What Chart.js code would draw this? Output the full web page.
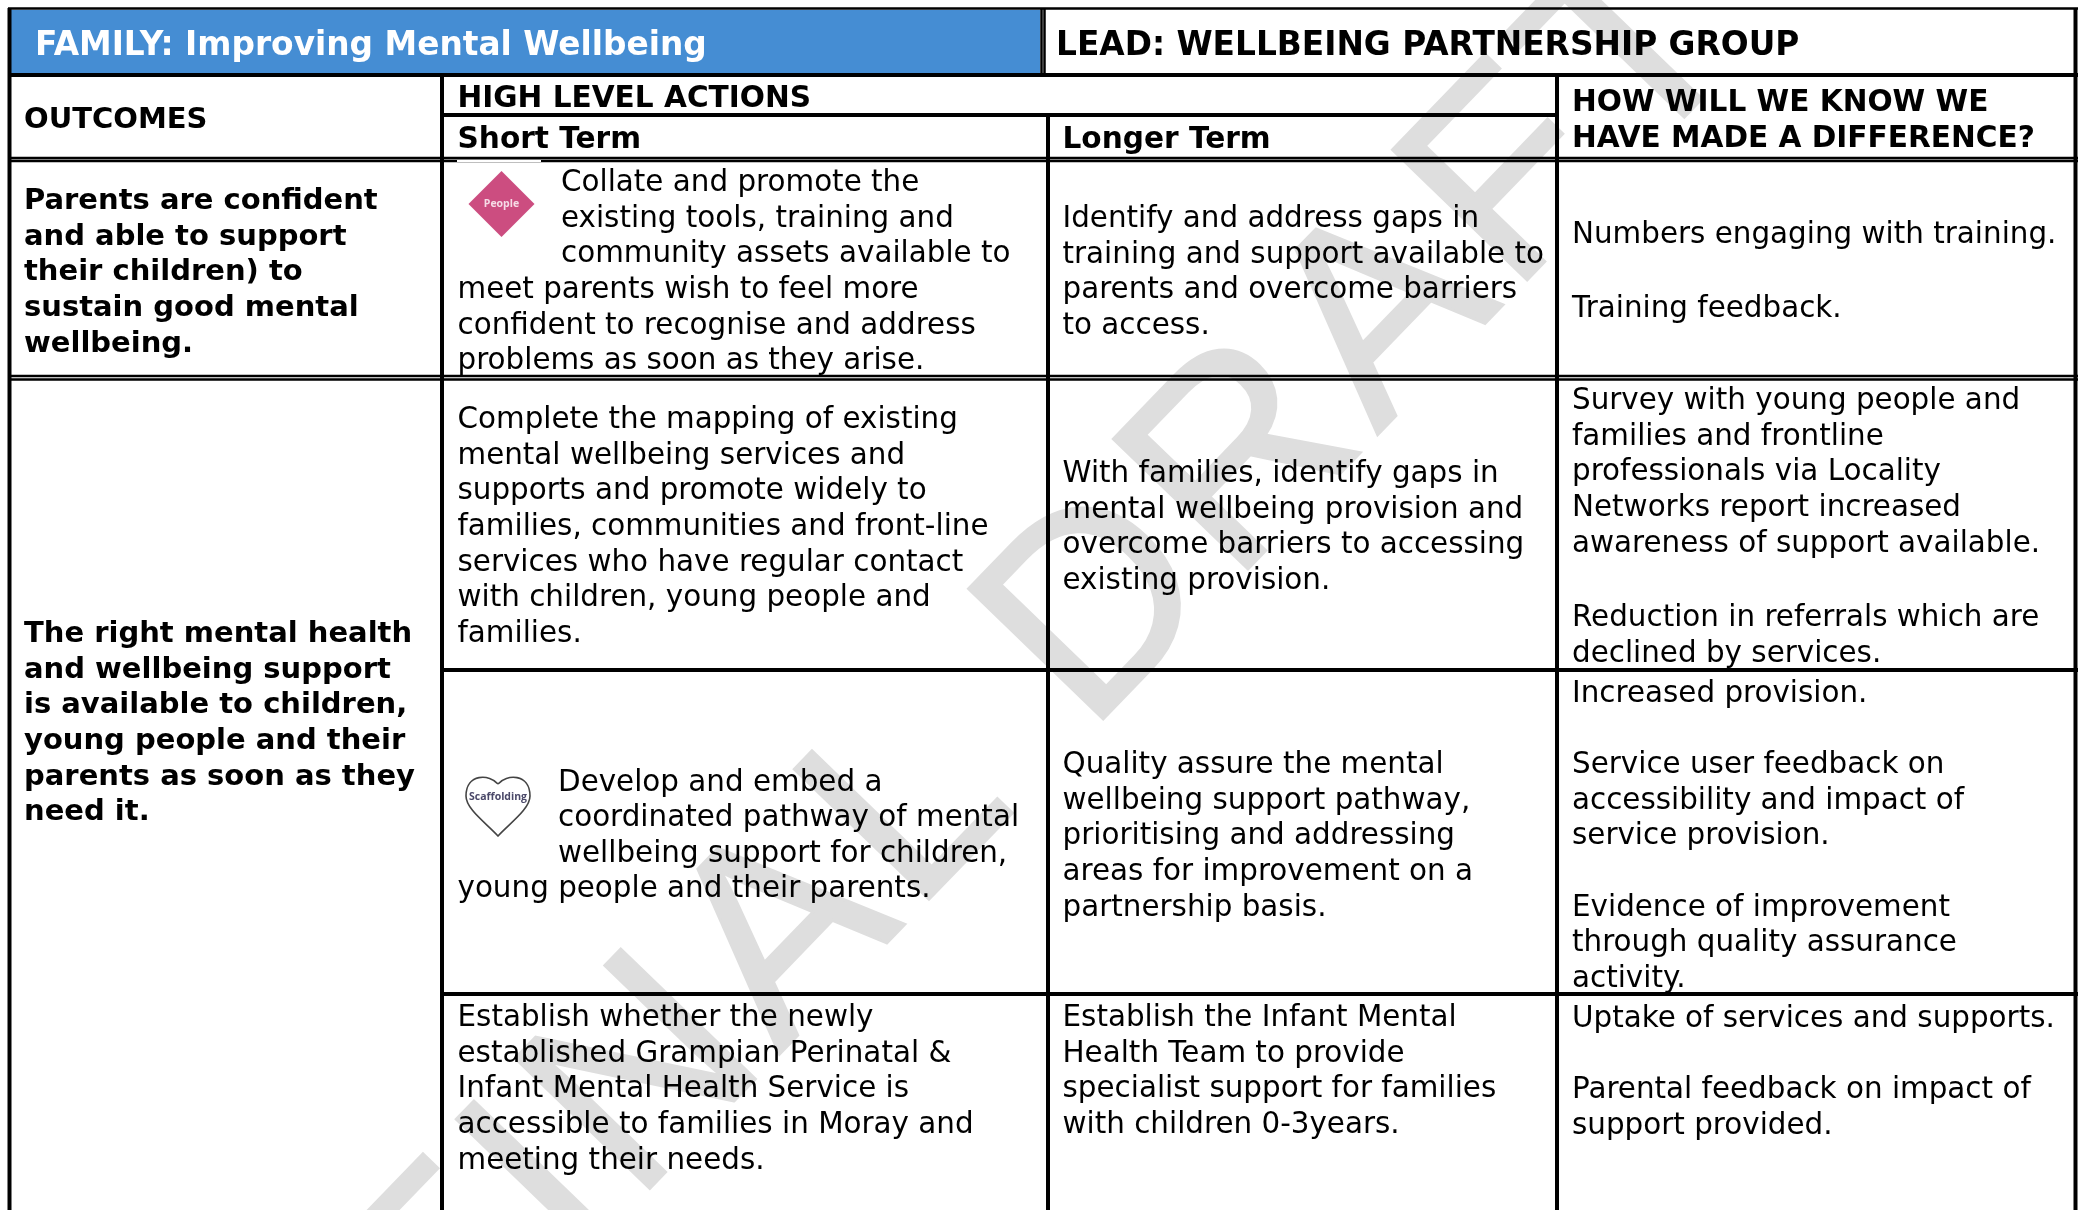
<!DOCTYPE html>
<html lang="en">
<head>
<meta charset="UTF-8" />
<title>Improving Mental Wellbeing</title>
<script src="https://cdn.jsdelivr.net/npm/chart.js@4"></script>
<style>
  html, body { margin: 0; padding: 0; background: #fff; }
  canvas { display: block; }
</style>
</head>
<body>
<canvas id="chart" width="2080" height="1210"></canvas>
<script>
// table text, one array per cell
const familyTitle = ['FAMILY: Improving Mental Wellbeing'];
const leadTitle = ['LEAD: WELLBEING PARTNERSHIP GROUP'];
const outcomesHead = ['OUTCOMES'];
const actionsHead = ['HIGH LEVEL ACTIONS'];
const shortHead = ['Short Term'];
const longerHead = ['Longer Term'];
const differenceHead = ['HOW WILL WE KNOW WE', 'HAVE MADE A DIFFERENCE?'];

const outcome1 = ['Parents are confident', 'and able to support', 'their children) to', 'sustain good mental', 'wellbeing.'];
const outcome2 = ['The right mental health', 'and wellbeing support', 'is available to children,', 'young people and their', 'parents as soon as they', 'need it.'];

const short1a = ['Collate and promote the', 'existing tools, training and', 'community assets available to'];
const short1b = ['meet parents wish to feel more', 'confident to recognise and address', 'problems as soon as they arise.'];
const longer1 = ['Identify and address gaps in', 'training and support available to', 'parents and overcome barriers', 'to access.'];
const know1a = ['Numbers engaging with training.'];
const know1b = ['Training feedback.'];

const short2 = ['Complete the mapping of existing', 'mental wellbeing services and', 'supports and promote widely to', 'families, communities and front-line', 'services who have regular contact', 'with children, young people and', 'families.'];
const longer2 = ['With families, identify gaps in', 'mental wellbeing provision and', 'overcome barriers to accessing', 'existing provision.'];
const know2a = ['Survey with young people and', 'families and frontline', 'professionals via Locality', 'Networks report increased', 'awareness of support available.'];
const know2b = ['Reduction in referrals which are', 'declined by services.'];

const short3a = ['Develop and embed a', 'coordinated pathway of mental', 'wellbeing support for children,'];
const short3b = ['young people and their parents.'];
const longer3 = ['Quality assure the mental', 'wellbeing support pathway,', 'prioritising and addressing', 'areas for improvement on a', 'partnership basis.'];
const know3 = ['Increased provision.', '', 'Service user feedback on', 'accessibility and impact of', 'service provision.', '', 'Evidence of improvement', 'through quality assurance', 'activity.'];

const short4 = ['Establish whether the newly', 'established Grampian Perinatal &', 'Infant Mental Health Service is', 'accessible to families in Moray and', 'meeting their needs.'];
const longer4 = ['Establish the Infant Mental', 'Health Team to provide', 'specialist support for families', 'with children 0-3years.'];
const know4 = ['Uptake of services and supports.', '', 'Parental feedback on impact of', 'support provided.'];

const watermarkStart = 'FINAL ';
const watermarkEnd = 'DRAFT';
const peopleLabel = 'People';
const scaffoldingLabel = 'Scaffolding';

const BODY = '29.4px "DejaVu Sans"';
const BOLD = 'bold 29.6px "DejaVu Sans"';
const OUTCOME = 'bold 29px "DejaVu Sans"';
const TITLE = 'bold 32.8px "DejaVu Sans"';
const STEP = 35.65;
const NUDGE = 2.5;

// where each block goes, in axis units: lines, x, y of first line, font, colour
const blocks = [
  [familyTitle, 35, 44, TITLE, '#ffffff'],
  [leadTitle, 1056, 44, TITLE, '#000000'],
  [outcomesHead, 24, 118, OUTCOME, '#000000'],
  [actionsHead, 457.5, 97, BOLD, '#000000'],
  [shortHead, 457.5, 138, BOLD, '#000000'],
  [longerHead, 1062.5, 138, BOLD, '#000000'],
  [differenceHead, 1572, 101, BOLD, '#000000'],
  [outcome1, 24, 199, OUTCOME, '#000000'],
  [outcome2, 24, 632, OUTCOME, '#000000'],
  [short1a, 561, 181, BODY, '#000000'],
  [short1b, 457.5, 288, BODY, '#000000'],
  [longer1, 1062.5, 217, BODY, '#000000'],
  [know1a, 1572, 233, BODY, '#000000'],
  [know1b, 1572, 307, BODY, '#000000'],
  [short2, 457.5, 418, BODY, '#000000'],
  [longer2, 1062.5, 472, BODY, '#000000'],
  [know2a, 1572, 399, BODY, '#000000'],
  [know2b, 1572, 616, BODY, '#000000'],
  [short3a, 558, 780.5, BODY, '#000000'],
  [short3b, 457.5, 887, BODY, '#000000'],
  [longer3, 1062.5, 763, BODY, '#000000'],
  [know3, 1572, 691.5, BODY, '#000000'],
  [short4, 457.5, 1016, BODY, '#000000'],
  [longer4, 1062.5, 1016, BODY, '#000000'],
  [know4, 1572, 1016.5, BODY, '#000000'],
];

// table rules as [from, to, at]
const heavyH = [[8, 2078, 75], [442, 1557, 115], [442, 2078, 670], [442, 2078, 994]];
const thinH = [[8, 2078, 8.5], [8, 2078, 158], [8, 2078, 161], [8, 2078, 376], [8, 2078, 379.5]];
const heavyV = [[9.5, 8, 1210], [442, 75, 1210], [1048, 115, 1210], [1557, 75, 1210], [2075.5, 8, 1210]];
const thinV = [[1041.5, 8, 75], [1044.5, 8, 75]];

const hPoints = rows => rows.flatMap(r => [{ x: r[0], y: r[2] }, { x: r[1], y: r[2] }, { x: null, y: null }]);
const vPoints = rows => rows.flatMap(r => [{ x: r[0], y: r[1] }, { x: r[0], y: r[2] }, { x: null, y: null }]);

const ruleSet = (data, width) => ({
  data: data,
  showLine: true,
  spanGaps: false,
  borderColor: '#000000',
  borderWidth: width,
  pointRadius: 0,
  order: 2
});

const tablePlugin = {
  id: 'tablePlugin',
  beforeDraw(chart) {
    const { ctx, width, height } = chart;
    ctx.save();
    ctx.fillStyle = '#ffffff';
    ctx.fillRect(0, 0, width, height);
    ctx.restore();
  },
  beforeDatasetsDraw(chart) {
    const { ctx, scales: { x, y } } = chart;
    ctx.save();
    // blue title cell
    ctx.fillStyle = '#458dd3';
    ctx.fillRect(x.getPixelForValue(10), y.getPixelForValue(10), x.getPixelForValue(1040) - x.getPixelForValue(10), y.getPixelForValue(74) - y.getPixelForValue(10));
    // watermark, anchored on the foot of the D
    ctx.translate(x.getPixelForValue(1103), y.getPixelForValue(719));
    ctx.rotate(-46 * Math.PI / 180);
    ctx.font = '272px "Liberation Sans"';
    ctx.letterSpacing = '12px';
    ctx.textAlign = 'left';
    ctx.textBaseline = 'alphabetic';
    ctx.fillStyle = '#dedede';
    ctx.strokeStyle = '#dedede';
    ctx.lineWidth = 3;
    ctx.lineJoin = 'miter';
    const lead = ctx.measureText(watermarkStart).width + 22;
    ctx.fillText(watermarkStart + watermarkEnd, -lead, 0);
    ctx.strokeText(watermarkStart + watermarkEnd, -lead, 0);
    ctx.restore();
  },
  afterDatasetsDraw(chart) {
    const { ctx, scales: { x, y } } = chart;
    ctx.save();
    // the People picture covers a bit of the inner rule
    ctx.fillStyle = '#ffffff';
    ctx.fillRect(x.getPixelForValue(457), y.getPixelForValue(160), 84, 2);
    ctx.textBaseline = 'middle';
    ctx.textAlign = 'left';
    blocks.forEach(b => {
      ctx.font = b[3];
      ctx.fillStyle = b[4];
      b[0].forEach((line, i) => {
        if (line) ctx.fillText(line, x.getPixelForValue(b[1]), y.getPixelForValue(b[2] + NUDGE + i * STEP));
      });
    });
    // labels on the two icons
    ctx.textAlign = 'center';
    ctx.font = 'bold 10.5px "Open Sans"';
    ctx.fillStyle = '#f6dbe6';
    ctx.fillText(peopleLabel, x.getPixelForValue(501.5), y.getPixelForValue(204));
    ctx.font = 'bold 10.5px "Open Sans"';
    ctx.fillStyle = '#4a4868';
    ctx.fillText(scaffoldingLabel, x.getPixelForValue(498), y.getPixelForValue(797));
    // heart outline
    const hx = x.getPixelForValue(498), hy = y.getPixelForValue(776);
    ctx.strokeStyle = '#444444';
    ctx.lineWidth = 1.6;
    ctx.beginPath();
    ctx.moveTo(hx, hy + 8);
    ctx.bezierCurveTo(hx - 8, hy - 2, hx - 32, hy - 3, hx - 32, hy + 20);
    ctx.bezierCurveTo(hx - 32, hy + 33, hx - 12, hy + 47, hx, hy + 60);
    ctx.bezierCurveTo(hx + 12, hy + 47, hx + 32, hy + 33, hx + 32, hy + 20);
    ctx.bezierCurveTo(hx + 32, hy - 3, hx + 8, hy - 2, hx, hy + 8);
    ctx.stroke();
    ctx.restore();
  }
};

new Chart(document.getElementById('chart'), {
  type: 'scatter',
  data: {
    datasets: [
      ruleSet(hPoints(heavyH).concat(vPoints(heavyV)), 4),
      ruleSet(hPoints(thinH).concat(vPoints(thinV)), 2.5),
      {
        // People diamond
        data: [{ x: 501.5, y: 204 }],
        pointStyle: 'rectRot',
        pointRadius: 33,
        backgroundColor: '#cc4d80',
        borderWidth: 0,
        order: 1
      }
    ]
  },
  options: {
    responsive: false,
    animation: false,
    layout: { padding: 0, autoPadding: false },
    plugins: { legend: { display: false }, tooltip: { enabled: false }, title: { display: false } },
    scales: {
      x: { type: 'linear', display: false, min: 0, max: 2080 },
      y: { type: 'linear', display: false, min: 0, max: 1210, reverse: true }
    }
  },
  plugins: [tablePlugin]
});
</script>
</body>
</html>
